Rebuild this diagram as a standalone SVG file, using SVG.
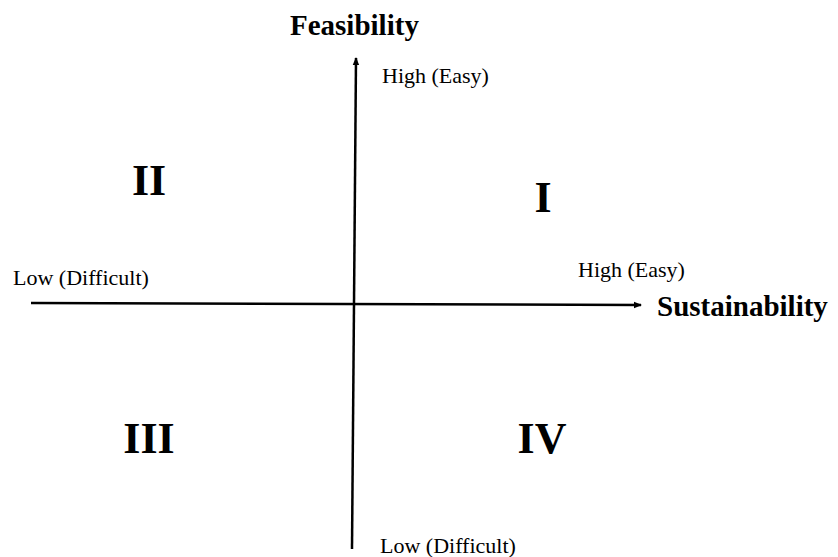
<svg xmlns="http://www.w3.org/2000/svg" width="838" height="557" viewBox="0 0 838 557">
<style>
.ax{stroke:#000;stroke-width:2.5;fill:none}
.lbl{font-family:"Liberation Serif","Times New Roman",serif;font-size:22px;fill:#000}
.ttl{font-family:"Liberation Serif","Times New Roman",serif;font-size:29px;font-weight:bold;fill:#000}
.num{font-family:"Liberation Serif","Times New Roman",serif;font-size:44px;font-weight:bold;fill:#000;text-anchor:middle}
</style>
<defs>
<marker id="ah" markerWidth="8" markerHeight="8" refX="7" refY="4" orient="auto" markerUnits="userSpaceOnUse">
<path d="M0,0.8 L8,4 L0,7.2 Z" fill="#000"/>
</marker>
</defs>
<rect width="838" height="557" fill="#fff"/>
<g id="connectors">
<line class="ax" x1="352" y1="549" x2="356" y2="58" marker-end="url(#ah)"/>
<line class="ax" x1="31" y1="303" x2="641" y2="305" marker-end="url(#ah)"/>
</g>
<g id="feasibility-axis">
<text class="ttl" x="290" y="35">Feasibility</text>
<text class="lbl" x="382" y="83">High (Easy)</text>
<text class="lbl" x="380" y="553">Low (Difficult)</text>
</g>
<g id="sustainability-axis">
<text class="ttl" x="657" y="316" font-size="30">Sustainability</text>
<text class="lbl" x="578" y="277">High (Easy)</text>
<text class="lbl" x="13" y="285">Low (Difficult)</text>
</g>
<g id="q1"><text class="num" x="543" y="212">I</text></g>
<g id="q2"><text class="num" x="149" y="195">II</text></g>
<g id="q3"><text class="num" x="149" y="453">III</text></g>
<g id="q4"><text class="num" x="542" y="453">IV</text></g>
</svg>
